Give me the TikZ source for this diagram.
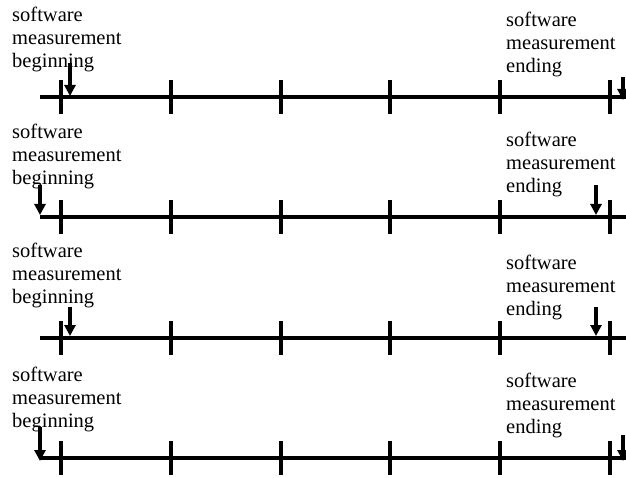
\documentclass[tikz,border=0pt]{standalone}
\usepackage{fontspec}
\setmainfont{Liberation Serif}
\usetikzlibrary{arrows.meta}
\begin{document}
\begin{tikzpicture}[x=1pt,y=-1pt,
  axis/.style={line width=4pt},
  tickmark/.style={line width=4pt},
  marker/.style={line width=3.2pt,-{Triangle[length=11pt,width=11pt]}},
  lbl/.style={font=\fontsize{20.5}{23}\selectfont,align=left,inner sep=0pt,anchor=base west}]
\useasboundingbox (0,0) rectangle (626,478);
% rows: line y
\foreach \r/\ly in {1/97,2/217,3/338,4/458}{
  \coordinate (s\r) at (40,\ly);
  \coordinate (e\r) at (640,\ly);
  \draw[axis] (s\r) -- (e\r);
  \foreach \t/\tx in {1/61,2/171,3/281,4/390,5/500,6/610}{
    \coordinate (t\r\t a) at (\tx,\ly-17);
    \coordinate (t\r\t b) at (\tx,\ly+17);
    \draw[tickmark] (t\r\t a) -- (t\r\t b);
  }
}
% labels (anchored at the baseline of the last line)
\node[lbl] (b1) at (12,68) {software\\measurement\\beginning};
\node[lbl] (n1) at (506,73) {software\\measurement\\ending};
\node[lbl] (b2) at (12,185) {software\\measurement\\beginning};
\node[lbl] (n2) at (506,193) {software\\measurement\\ending};
\node[lbl] (b3) at (12,303) {software\\measurement\\beginning};
\node[lbl] (n3) at (506,315) {software\\measurement\\ending};
\node[lbl] (b4) at (12,427) {software\\measurement\\beginning};
\node[lbl] (n4) at (506,433) {software\\measurement\\ending};
% markers
\coordinate (ab1) at (70,63);  \coordinate (ab1e) at (70,96);
\coordinate (ae1) at (623,77); \coordinate (ae1e) at (623,100);
\coordinate (ab2) at (40,185); \coordinate (ab2e) at (40,215);
\coordinate (ae2) at (596,185); \coordinate (ae2e) at (596,215);
\coordinate (ab3) at (70,307); \coordinate (ab3e) at (70,336);
\coordinate (ae3) at (596,307); \coordinate (ae3e) at (596,336);
\coordinate (ab4) at (40,427); \coordinate (ab4e) at (40,461);
\coordinate (ae4) at (623,435); \coordinate (ae4e) at (623,461);
\foreach \a in {ab1,ae1,ab2,ae2,ab3,ae3,ab4,ae4}{
  \draw[marker] (\a) -- (\a e);
}
\end{tikzpicture}
\end{document}
